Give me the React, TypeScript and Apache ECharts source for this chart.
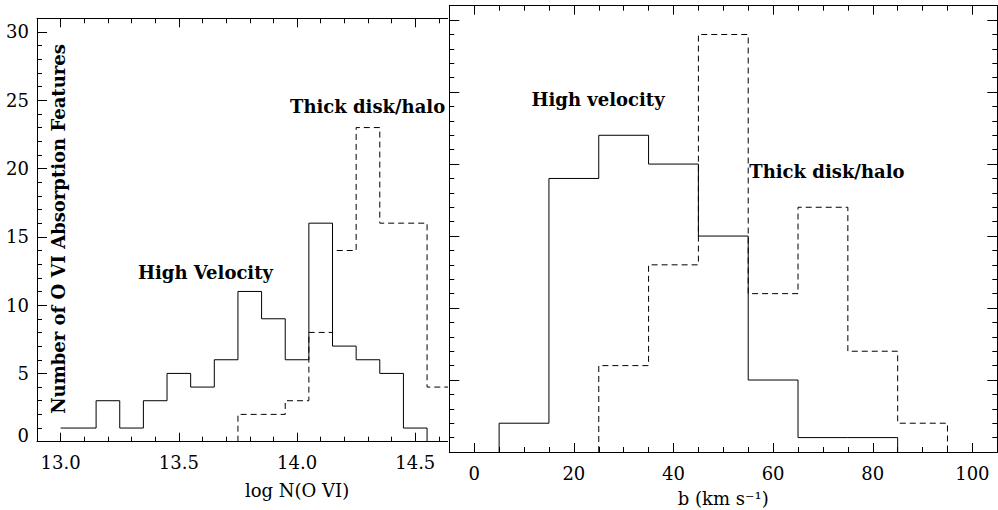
import React, { useEffect, useRef } from "react";
import * as echarts from "echarts";

// ---------- data ----------
// Left panel: log N(O VI) histograms
const leftSolidEdges = [13.0, 13.15, 13.25, 13.35, 13.45, 13.55, 13.65, 13.75, 13.85, 13.95, 14.05, 14.15, 14.25, 14.35, 14.45, 14.55];
const leftSolidCounts = [1, 3, 1, 3, 5, 4, 6, 11, 9, 6, 16, 7, 6, 5, 1];
const leftDashedEdges = [13.75, 13.85, 13.95, 14.05, 14.15, 14.25, 14.35, 14.45, 14.55, 14.65];
const leftDashedCounts = [2, 2, 3, 8, 14, 23, 16, 16, 4];

// Right panel: b (km/s) histograms
const rightSolidEdges = [5, 15, 25, 35, 45, 55, 65, 75, 85];
const rightSolidCounts = [2, 19, 22, 20, 15, 5, 1, 1];
const rightDashedEdges = [25, 35, 45, 55, 65, 75, 85, 95];
const rightDashedCounts = [6, 13, 29, 11, 17, 7, 2];

// tick labels
const leftXMajor = [13.0, 13.5, 14.0, 14.5, 15.0];
const rightXMajor = [0, 20, 40, 60, 80, 100];
const yMajor = [0, 5, 10, 15, 20, 25, 30];

const FONT = '"DejaVu Serif", "Liberation Serif", serif';

function minorTicks(min: number, max: number, step: number, majors: number[]) {
  const out: number[] = [];
  const n = Math.round((max - min) / step);
  for (let i = 0; i <= n; i++) {
    const v = +(min + i * step).toFixed(4);
    if (!majors.some((m) => Math.abs(m - v) < 1e-6)) out.push(v);
  }
  return out;
}

function stepPoints(edges: number[], counts: number[], rise: boolean, drop: boolean) {
  const pts: number[][] = [];
  if (rise) pts.push([edges[0], 0]);
  counts.forEach((c, i) => pts.push([edges[i], c]));
  pts.push([edges[edges.length - 1], counts[counts.length - 1]]);
  if (drop) pts.push([edges[edges.length - 1], 0]);
  return pts;
}

const lineStyle = { color: "#000", width: 1 };

function xAxes(min: number, max: number, majors: number[], minors: number[], fmt: (v: number) => string, name: string, nameGap: number) {
  const base: any = {
    type: "value",
    min,
    max,
    splitLine: { show: false },
    axisLabel: { show: false },
    axisLine: { show: false, onZero: false },
  };
  const tick = (vals: number[], len: number) => ({ show: true, inside: true, length: len, customValues: vals, lineStyle });
  return [
    {
      ...base,
      position: "bottom",
      axisLine: { show: true, onZero: false, lineStyle },
      axisTick: tick(majors, 9),
      axisLabel: {
        show: true,
        customValues: majors,
        formatter: fmt,
        margin: 12,
        showMinLabel: true,
        showMaxLabel: true,
        hideOverlap: false,
        fontFamily: FONT,
        fontSize: 18,
        color: "#000",
      },
      name,
      nameLocation: "middle",
      nameGap,
      nameTextStyle: { fontFamily: FONT, fontSize: 18, color: "#000" },
    },
    { ...base, position: "bottom", axisTick: tick(minors, 5) },
    { ...base, position: "top", axisLine: { show: true, onZero: false, lineStyle }, axisTick: tick(majors, 9) },
    { ...base, position: "top", axisTick: tick(minors, 5) },
  ];
}

function yAxes(showLabels: boolean) {
  const minors = minorTicks(0, 30, 1, yMajor);
  const base: any = {
    type: "value",
    min: 0,
    max: 31,
    splitLine: { show: false },
    axisLabel: { show: false },
    axisLine: { show: false, onZero: false },
  };
  const tick = (vals: number[], len: number) => ({ show: true, inside: true, length: len, customValues: vals, lineStyle });
  return [
    {
      ...base,
      position: "left",
      axisLine: { show: true, onZero: false, lineStyle },
      axisTick: tick(yMajor, 10),
      axisLabel: {
        show: showLabels,
        customValues: yMajor,
        margin: 8,
        showMinLabel: true,
        showMaxLabel: true,
        formatter: (v: number) => (v === 0 ? "{z|0}" : String(v)),
        rich: { z: { fontFamily: FONT, fontSize: 18, color: "#000", padding: [0, 0, 12, 0] } },
        fontFamily: FONT,
        fontSize: 18,
        color: "#000",
      },
    },
    { ...base, position: "left", axisTick: tick(minors, 5) },
    { ...base, position: "right", axisLine: { show: true, onZero: false, lineStyle }, axisTick: tick(yMajor, 10) },
    { ...base, position: "right", axisTick: tick(minors, 5) },
  ];
}

function histSeries(pts: number[][], dashed: boolean) {
  return {
    type: "line",
    xAxisIndex: 0,
    yAxisIndex: 0,
    step: "end",
    showSymbol: false,
    symbol: "none",
    clip: true,
    data: pts,
    lineStyle: { color: "#000", width: 1, type: dashed ? [6, 4] : "solid" },
    silent: true,
  };
}

function txt(text: string, x: number, y: number, extra: any = {}) {
  return {
    type: "text",
    x,
    y,
    ...extra,
    style: {
      text,
      fill: "#000",
      fontFamily: FONT,
      fontSize: 18,
      fontWeight: "bold",
      align: extra.align || "left",
      verticalAlign: "middle",
    },
  };
}

export default function App() {
  const leftRef = useRef<HTMLDivElement>(null);
  const rightRef = useRef<HTMLDivElement>(null);

  useEffect(() => {
    document.body.style.margin = "0";
    const l = echarts.init(leftRef.current!, null, { renderer: "svg" });
    const r = echarts.init(rightRef.current!, null, { renderer: "svg" });

    const leftMin = 12.9;
    const leftMax = 15.1;
    l.setOption({
      animation: false,
      backgroundColor: "#fff",
      grid: { left: 37, top: 18.3, width: 520.1, height: 423.4, containLabel: false, outerBoundsMode: "none" },
      xAxis: xAxes(leftMin, leftMax, leftXMajor, minorTicks(13.0, 15.0, 0.1, leftXMajor), (v: number) => v.toFixed(1), "log N(O VI)", 40),
      yAxis: yAxes(true),
      series: [
        histSeries(stepPoints(leftSolidEdges, leftSolidCounts, false, true), false),
        histSeries(stepPoints(leftDashedEdges, leftDashedCounts, true, true), true),
      ],
      graphic: [
        txt("Number of O VI Absorption Features", 58.3, 229, { rotation: Math.PI / 2, align: "center" }),
        txt("High Velocity", 138, 272),
        txt("Thick disk/halo", 290, 106.7),
      ],
    });

    r.setOption({
      animation: false,
      backgroundColor: "#fff",
      grid: { left: 1.3, top: 5.7, width: 548, height: 446.3, containLabel: false, outerBoundsMode: "none" },
      xAxis: xAxes(-5, 105, rightXMajor, minorTicks(0, 100, 5, rightXMajor), (v: number) => String(v), "b (km s\u207B\u00B9)", 37),
      yAxis: yAxes(false),
      series: [
        histSeries(stepPoints(rightSolidEdges, rightSolidCounts, true, true), false),
        histSeries(stepPoints(rightDashedEdges, rightDashedCounts, true, true), true),
      ],
      graphic: [
        txt("High velocity", 531.5 - 448, 99.7),
        txt("Thick disk/halo", 749.3 - 448, 171.7),
      ],
    });

    return () => {
      l.dispose();
      r.dispose();
    };
  }, []);

  return (
    <div style={{ position: "absolute", left: 0, top: 0, width: 998, height: 510, background: "#fff", overflow: "hidden" }}>
      <div ref={leftRef} style={{ position: "absolute", left: 0, top: 0, width: 600, height: 510 }} />
      <div ref={rightRef} style={{ position: "absolute", left: 448, top: 0, width: 620, height: 510, background: "#fff" }} />
    </div>
  );
}
